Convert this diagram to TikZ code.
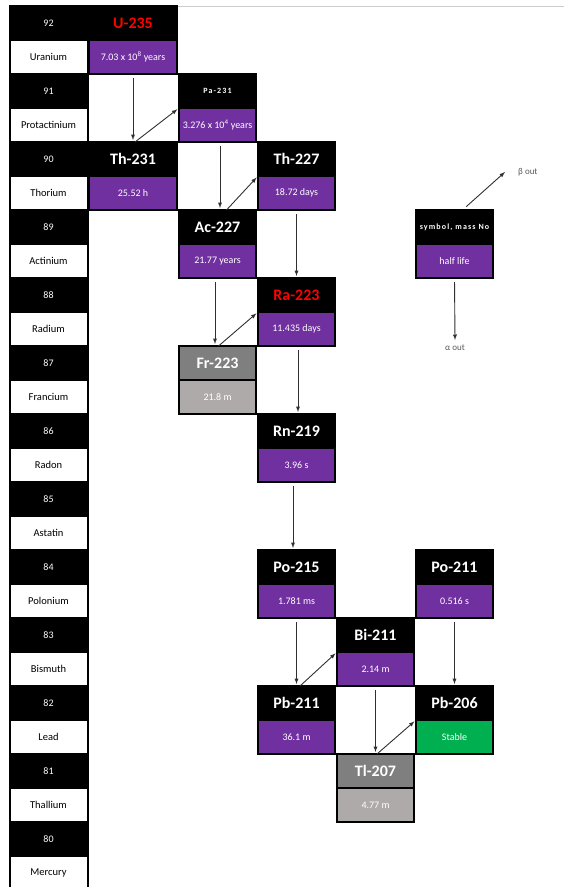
\documentclass[tikz,border=0pt]{standalone}
\usepackage{fontspec}
\setmainfont{Carlito}
\newfontfamily\spacedfont{Carlito}[LetterSpace=14]
\usepackage{tikz}
\usetikzlibrary{positioning}

\definecolor{halfpurple}{HTML}{7030A0}
\definecolor{stablegreen}{HTML}{00B050}
\definecolor{fadehead}{HTML}{7F7F7F}
\definecolor{fadebody}{HTML}{AEAAAA}
\definecolor{arrowgray}{HTML}{303030}

\tikzset{
    cell/.style={draw=black, line width=2pt, inner sep=0pt, outer sep=0pt,
        minimum height=34pt, minimum width=77pt, text=white},
    zhead/.style={cell, fill=black, minimum width=78pt, font=\fontsize{10}{12}\selectfont},
    zname/.style={cell, fill=white, text=black, minimum width=78pt, font=\fontsize{10.5}{12}\selectfont},
    nuchead/.style={cell, fill=black, font=\bfseries\fontsize{16}{18}\selectfont},
    nucbody/.style={cell, fill=halfpurple, font=\fontsize{10}{12}\selectfont},
    wide/.style={minimum width=88pt},
    hot/.style={text=red},
    faded/.style={fill=fadehead},
    fadedbody/.style={fill=fadebody},
    stable/.style={fill=stablegreen},
    tinyname/.style={font=\spacedfont\bfseries\fontsize{8}{9}\selectfont},
    adecay/.style={->, draw=arrowgray, line width=0.9pt, shorten <=4pt, shorten >=2pt},
    bdecay/.style={->, draw=arrowgray, line width=0.9pt, shorten >=2pt},
    legtxt/.style={text=black!65, inner sep=0pt, font=\fontsize{9}{10}\selectfont}
}

\begin{document}
\begin{tikzpicture}[x=1pt, y=-1pt, >=latex]
    \useasboundingbox (0,0) rectangle (564,887);

    % atomic number column
    \node[zhead] (z92) at (48.5,23) {92};
    \node[zname, below=0pt of z92] (el92) {Uranium};
    \node[zhead] (z91) at (48.5,91) {91};
    \node[zname, below=0pt of z91] (el91) {Protactinium};
    \node[zhead] (z90) at (48.5,159) {90};
    \node[zname, below=0pt of z90] (el90) {Thorium};
    \node[zhead] (z89) at (48.5,227) {89};
    \node[zname, below=0pt of z89] (el89) {Actinium};
    \node[zhead] (z88) at (48.5,295) {88};
    \node[zname, below=0pt of z88] (el88) {Radium};
    \node[zhead] (z87) at (48.5,363) {87};
    \node[zname, below=0pt of z87] (el87) {Francium};
    \node[zhead] (z86) at (48.5,431) {86};
    \node[zname, below=0pt of z86] (el86) {Radon};
    \node[zhead] (z85) at (48.5,499) {85};
    \node[zname, below=0pt of z85] (el85) {Astatin};
    \node[zhead] (z84) at (48.5,567) {84};
    \node[zname, below=0pt of z84] (el84) {Polonium};
    \node[zhead] (z83) at (48.5,635) {83};
    \node[zname, below=0pt of z83] (el83) {Bismuth};
    \node[zhead] (z82) at (48.5,703) {82};
    \node[zname, below=0pt of z82] (el82) {Lead};
    \node[zhead] (z81) at (48.5,771) {81};
    \node[zname, below=0pt of z81] (el81) {Thallium};
    \node[zhead] (z80) at (48.5,839) {80};
    \node[zname, below=0pt of z80] (el80) {Mercury};

    \draw[black!20, line width=0.8pt] (88,6) -- (564,6);

    % nuclides
    \node[nucbody, wide] (U235) at (133,57) {7.03 x 10\textsuperscript{8} years};
    \node[nuchead, wide, hot, above=0pt of U235] (U235h) {U-235};
    \node[nucbody] (Pa231) at (217.5,125) {3.276 x 10\textsuperscript{4} years};
    \node[nuchead, tinyname, above=0pt of Pa231] (Pa231h) {Pa-231};
    \node[nucbody, wide] (Th231) at (133,193) {25.52 h};
    \node[nuchead, wide, above=0pt of Th231] (Th231h) {Th-231};
    \node[nucbody] (Th227) at (296.5,193) {18.72 days};
    \node[nuchead, above=0pt of Th227] (Th227h) {Th-227};
    \node[nucbody] (Ac227) at (217.5,261) {21.77 years};
    \node[nuchead, above=0pt of Ac227] (Ac227h) {Ac-227};
    \node[nucbody] (Ra223) at (296.5,329) {11.435 days};
    \node[nuchead, hot, above=0pt of Ra223] (Ra223h) {Ra-223};
    \node[nucbody, fadedbody] (Fr223) at (217.5,397) {21.8 m};
    \node[nuchead, faded, above=0pt of Fr223] (Fr223h) {Fr-223};
    \node[nucbody] (Rn219) at (296.5,465) {3.96 s};
    \node[nuchead, above=0pt of Rn219] (Rn219h) {Rn-219};
    \node[nucbody] (Po215) at (296.5,601) {1.781 ms};
    \node[nuchead, above=0pt of Po215] (Po215h) {Po-215};
    \node[nucbody] (Po211) at (454.5,601) {0.516 s};
    \node[nuchead, above=0pt of Po211] (Po211h) {Po-211};
    \node[nucbody] (Bi211) at (375.5,669) {2.14 m};
    \node[nuchead, above=0pt of Bi211] (Bi211h) {Bi-211};
    \node[nucbody] (Pb211) at (296.5,737) {36.1 m};
    \node[nuchead, above=0pt of Pb211] (Pb211h) {Pb-211};
    \node[nucbody, stable] (Pb206) at (454.5,737) {Stable};
    \node[nuchead, above=0pt of Pb206] (Pb206h) {Pb-206};
    \node[nucbody, fadedbody] (Tl207) at (375.5,805) {4.77 m};
    \node[nuchead, faded, above=0pt of Tl207] (Tl207h) {Tl-207};

    % decays
    \draw[adecay] (U235.south) -- (Th231h.north);
    \draw[bdecay] ([xshift=2pt]Th231h.north) -- (Pa231.north west);
    \draw[adecay] ([xshift=2.5pt]Pa231.south) -- ([xshift=2.5pt]Ac227h.north);
    \draw[bdecay] ([xshift=9pt]Ac227h.north) -- (Th227.north west);
    \draw[adecay] (Th227.south) -- (Ra223h.north);
    \draw[adecay] ([xshift=-2.5pt]Ac227.south) -- ([xshift=-2.5pt]Fr223h.north);
    \draw[bdecay] ([xshift=1pt]Fr223h.north) -- (Ra223.north west);
    \draw[adecay] ([xshift=1.5pt]Ra223.south) -- ([xshift=1.5pt]Rn219h.north);
    \draw[adecay] ([xshift=-3.5pt]Rn219.south) -- ([xshift=-3.5pt]Po215h.north);
    \draw[adecay] (Po215.south) -- (Pb211h.north);
    \draw[bdecay] ([xshift=3.5pt]Pb211h.north) -- (Bi211.north west);
    \draw[adecay] (Bi211.south) -- (Tl207h.north);
    \draw[bdecay] ([xshift=1.5pt]Tl207h.north) -- (Pb206.north west);
    \draw[adecay] (Po211.south) -- (Pb206h.north);

    % key
    \node[nucbody] (key) at (454.5,261) {half life};
    \node[nuchead, tinyname, above=0pt of key] (keyh) {symbol, mass No};
    \coordinate (bout) at (505,172);
    \coordinate (aout) at (455,340);
    \draw[bdecay, shorten <=5pt, shorten >=0pt] ([xshift=8pt]keyh.north) -- (bout);
    \node[legtxt, right=13pt of bout] (btext) {β out};
    \draw[adecay, shorten >=0pt] (key.south) -- (aout);
    \node[legtxt, below=5pt of aout] (atext) {α out};

\end{tikzpicture}
\end{document}
